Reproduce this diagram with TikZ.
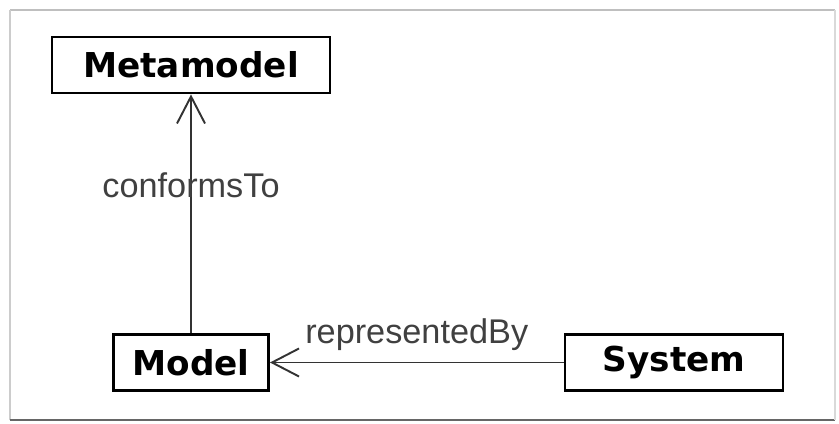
\documentclass[tikz,border=0pt]{standalone}
\usepackage{fontspec}
\setmainfont{Liberation Sans}
\newfontfamily\boxfont{DejaVu Sans}
\usetikzlibrary{arrows.meta}

\begin{document}
\begin{tikzpicture}[
  box/.style={draw, line width=1.6pt, minimum height=11.2mm, inner sep=0pt,
              font=\boxfont\bfseries\fontsize{19.5}{22}\selectfont},
  rel/.style={line width=1.1pt, draw=black!80,
              -{Straight Barb[length=5.4mm, width=5.6mm, line width=1.1pt]}},
  lbl/.style={text=black!75, font=\fontsize{19.5}{22}\selectfont}
]

\useasboundingbox (0,0) rectangle (16.78,8.46);

% frame
\draw[black!25, line width=0.8pt] (0.2,8.26) -- (16.7,8.26);
\draw[black!20, line width=0.8pt] (0.2,8.26) -- (0.2,0.06);
\draw[black!60, line width=0.9pt] (0.2,0.06) -- (16.7,0.06);
\draw[black!15, line width=0.8pt] (16.7,0.06) -- (16.7,8.26);

\node[box, minimum width=55.6mm] (meta) at (3.82,7.16) {Metamodel};

\node[box, minimum width=31mm] (model) at (3.82,1.21) {Model};
\node[box, minimum width=43.6mm] (system) at (13.48,1.21) {System};

\draw[rel]
  (model) -- node[pos=0.62, lbl] {conformsTo} (meta);

\draw[rel]
  (system) -- node[midway, above=1mm, lbl] {representedBy} (model);

\end{tikzpicture}
\end{document}
